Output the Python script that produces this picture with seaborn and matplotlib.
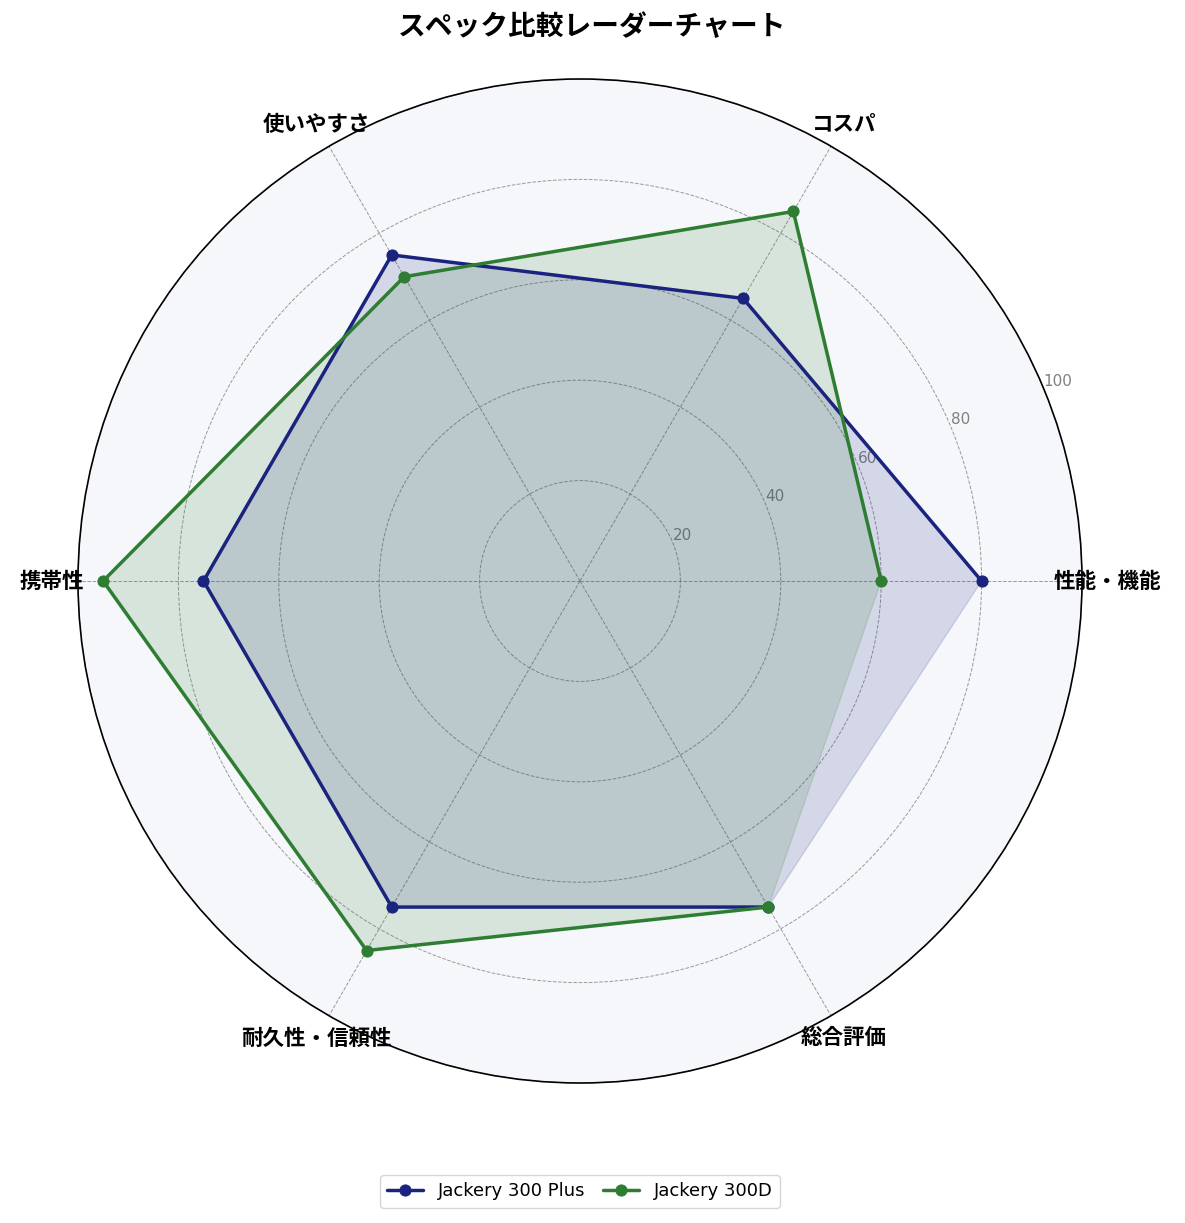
import numpy as np
import pandas as pd
import seaborn as sns
import matplotlib.pyplot as plt

categories = ["性能・機能", "コスパ", "使いやすさ", "携帯性", "耐久性・信頼性", "総合評価"]
plus_values = [80, 65, 75, 75, 75, 75]
d300_values = [60, 85, 70, 95, 85, 75]
series_names = ["Jackery 300 Plus", "Jackery 300D"]
r_ticks = [20, 40, 60, 80, 100]


def closed(values):
    """Close the polygon by repeating the first point"""
    return list(values) + [values[0]]


def main():
    sns.set_style("white")
    plt.rcParams['font.family'] = ['Noto Sans CJK JP', 'DejaVu Sans']
    plt.rcParams['text.color'] = 'black'
    plt.rcParams['xtick.color'] = 'black'

    n = len(categories)
    angles = np.linspace(0, 2 * np.pi, n, endpoint=False).tolist()
    angles_c = closed(angles)

    fig = plt.figure(figsize=(11.85, 12.23), dpi=100)
    ax = fig.add_axes([78 / 1185, 140 / 1223, 1004 / 1185, 1004 / 1223],
                      projection="polar")
    ax.set_facecolor("#f5f7fa")

    colors = ["#1a237e", "#2e7d32"]
    for name, vals, col in zip(series_names, [plus_values, d300_values], colors):
        df = pd.DataFrame({"angle": angles_c, "value": closed(vals)})
        sns.lineplot(data=df, x="angle", y="value", sort=False, ax=ax,
                     color=col, linewidth=2.5, marker="o", markersize=8,
                     markeredgecolor=col, label=name)
        ax.fill(angles_c, closed(vals), color=col, alpha=0.15)

    ax.set_ylim(0, 100)
    ax.set_yticks(r_ticks)
    ax.set_yticklabels([str(t) for t in r_ticks], color="#808080", fontsize=11,
                       family="DejaVu Sans")
    ax.set_rlabel_position(22.5)
    ax.set_xticks(angles)
    ax.set_xticklabels(categories, fontsize=15.5, fontweight="bold", color="black")
    ax.tick_params(axis="x", pad=8)
    ax.set_xlabel("")
    ax.set_ylabel("")
    ax.grid(True, color="#999999", linestyle="--", linewidth=0.7)
    ax.spines["polar"].set_color("black")
    ax.spines["polar"].set_linewidth(1.2)

    fig.suptitle("スペック比較レーダーチャート", fontsize=20, fontweight="bold",
                 y=1 - 27 / 1223, va="center", color="black")
    leg = ax.legend(loc="center", bbox_to_anchor=(0.5, -0.108), ncol=2,
                    prop={"family": "DejaVu Sans", "size": 13},
                    frameon=True, columnspacing=1.0, handletextpad=0.8)
    for t in leg.get_texts():
        t.set_color("black")
    fig.savefig("out.png", dpi=100)


if __name__ == "__main__":
    main()
